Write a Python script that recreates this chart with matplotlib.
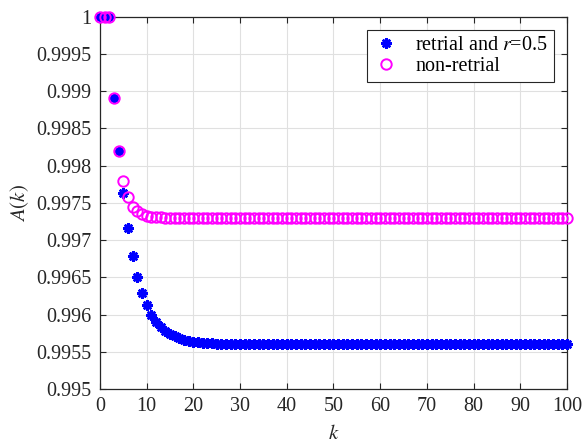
import numpy as np
import matplotlib
matplotlib.use("Agg")
import matplotlib.pyplot as plt

# availability A(k) for k = 0..100
k = np.arange(0, 101)

# retrial system, r = 0.5 (transient part, then steady value)
retrial_head = [1.0, 1.0, 1.0, 0.99891, 0.99820, 0.997634, 0.997164, 0.996792,
                0.996506, 0.996291, 0.996126, 0.996000, 0.995906, 0.995834,
                0.995779, 0.995737, 0.995705, 0.995680, 0.995661, 0.995647,
                0.995636, 0.995628, 0.995621, 0.995616, 0.995612, 0.995609]
retrial_tail = [0.995600] * (101 - len(retrial_head))
retrial = retrial_head + retrial_tail

# non-retrial system
nonretrial_head = [1.0, 1.0, 1.0, 0.99891, 0.99820, 0.99780, 0.99758, 0.99745,
                   0.99739, 0.997354, 0.99733, 0.997315, 0.997308, 0.997304,
                   0.997302, 0.997301]
nonretrial_tail = [0.99730] * (101 - len(nonretrial_head))
nonretrial = nonretrial_head + nonretrial_tail

xticks = np.arange(0, 101, 10)
yticks = [0.995, 0.9955, 0.996, 0.9965, 0.997, 0.9975, 0.998, 0.9985, 0.999, 0.9995, 1]

plt.rcParams['font.family'] = ['Liberation Serif', 'DejaVu Serif']
plt.rcParams['mathtext.fontset'] = 'stix'

dark = (0.15, 0.15, 0.15)

fig = plt.figure(figsize=(5.84, 4.44), dpi=100)
ax = fig.add_axes([0.171, 0.124, 0.8, 0.838])

ax.plot(k, retrial, linestyle='none', marker=(8, 2, 0), markersize=7.5,
        markeredgewidth=1.8, color=(0, 0, 1), label='retrial and $r$=0.5',
        clip_on=False, zorder=3)
ax.plot(k, nonretrial, linestyle='none', marker='o', markersize=7.5,
        markeredgewidth=1.4, markerfacecolor='none', markeredgecolor=(1, 0, 1),
        label='non-retrial', clip_on=False, zorder=3)

ax.set_xlim(0, 100)
ax.set_ylim(0.995, 1)
ax.set_xticks(xticks)
ax.set_yticks(yticks)
ax.set_yticklabels([f"{v:g}" for v in yticks])

ax.grid(True, color=(0.88, 0.88, 0.88), linewidth=0.8)
ax.set_axisbelow(True)
ax.tick_params(direction='in', top=True, right=True, length=4, width=0.8,
               labelsize=14.5, colors=dark)
ax.tick_params(axis='y', pad=6)
ax.tick_params(axis='x', pad=6)
for sp in ax.spines.values():
    sp.set_color(dark)
    sp.set_linewidth(0.9)

ax.set_xlabel('$k$', fontsize=15, color=dark, labelpad=6)
ax.set_ylabel('$A(k)$', fontsize=15, color=dark, labelpad=4)

leg = ax.legend(loc='upper right', fontsize=14.5, fancybox=False, framealpha=1,
                edgecolor=dark, borderpad=0.3, handletextpad=0.8,
                handlelength=1.3, labelspacing=0.1, borderaxespad=0,
                bbox_to_anchor=(0.972, 0.965))
leg.get_frame().set_linewidth(0.8)

fig.savefig('out.png', dpi=100)
